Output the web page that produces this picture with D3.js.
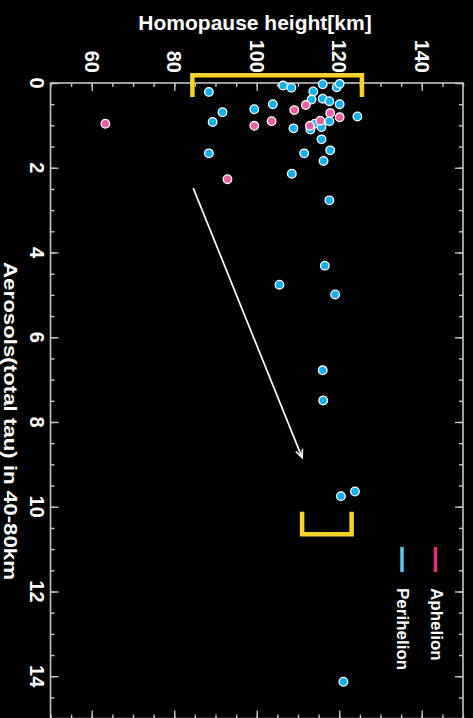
<!DOCTYPE html>
<html><head><meta charset="utf-8">
<script src="https://cdn.jsdelivr.net/npm/d3@7"></script>
<style>html,body{margin:0;padding:0;background:#000;}svg{display:block;}</style>
</head><body>
<script>
// Data: [homopause height km, aerosol total tau 40-80km]
const perihelion = [
  [88.4,0.21],[106.4,0.06],[108.4,0.11],[116.0,0.03],[119.4,0.10],[120.1,0.02],
  [113.7,0.20],[113.3,0.39],[116.0,0.37],[117.6,0.43],[120.1,0.50],[103.9,0.50],
  [91.7,0.69],[99.4,0.62],[124.4,0.79],[89.3,0.92],[108.9,1.07],[113.0,1.10],
  [114.1,0.96],[115.7,1.04],[117.6,0.90],[115.7,1.33],[117.8,1.59],[111.5,1.66],
  [116.2,1.84],[88.4,1.66],[108.5,2.14],[117.6,2.77],[116.5,4.31],[105.5,4.76],
  [119.0,4.99],[116.0,6.78],[116.1,7.49],[120.4,9.75],[123.8,9.64],[121.0,14.13]
];
const aphelion = [
  [109.1,0.64],[111.9,0.52],[117.8,0.71],[120.1,0.81],[63.3,0.96],[99.4,1.01],
  [103.6,0.90],[112.9,1.01],[115.4,0.89],[92.9,2.27]
];
const heightTicks = [60,80,100,120,140];
const tauTicks = [0,2,4,6,8,10,12,14];
const topBracket = [[84.4,0.33],[84.4,-0.18],[125.5,-0.18],[125.5,0.33]];
const bottomBracket = [[111.0,10.12],[111.0,10.65],[123.0,10.65],[123.0,10.12]];
const arrowLine = [[84.6,2.48],[111.0,8.84]];
const legendItems = ["Aphelion","Perihelion"];

const W = 473, H = 718;
const C_PERI = "#10b1ee", C_APH = "#ee5fa6", C_YEL = "#f6d32a", C_AX = "#c4c4c4";
const svg = d3.select("body").append("svg").attr("width",W).attr("height",H).style("background","#000");
svg.append("rect").attr("width",W).attr("height",H).attr("fill","#000");

const x = d3.scaleLinear().domain([50,150]).range([50.5,463]);
const y = d3.scaleLinear().domain([0,15]).range([83,718.6]);

const minorH = d3.range(50,151,5), minorT = d3.range(0,15.01,0.5);
function axisStyle(g){ g.select(".domain").remove(); g.selectAll("line").attr("stroke",C_AX).attr("stroke-width",1.4); g.selectAll("text").remove(); }
// top
svg.append("g").attr("transform",`translate(0,${y(0)})`).call(d3.axisTop(x).tickValues(minorH).tickSize(-4)).call(axisStyle);
svg.append("g").attr("transform",`translate(0,${y(0)})`).call(d3.axisTop(x).tickValues(heightTicks).tickSize(-8)).call(axisStyle);
// bottom
svg.append("g").attr("transform",`translate(0,${y(15)})`).call(d3.axisBottom(x).tickValues(minorH).tickSize(-4)).call(axisStyle);
svg.append("g").attr("transform",`translate(0,${y(15)})`).call(d3.axisBottom(x).tickValues(heightTicks).tickSize(-8)).call(axisStyle);
// left
svg.append("g").attr("transform",`translate(${x(50)},0)`).call(d3.axisLeft(y).tickValues(minorT).tickSize(-4)).call(axisStyle);
svg.append("g").attr("transform",`translate(${x(50)},0)`).call(d3.axisLeft(y).tickValues(tauTicks).tickSize(-8)).call(axisStyle);
// right
svg.append("g").attr("transform",`translate(${x(150)},0)`).call(d3.axisRight(y).tickValues(minorT).tickSize(-4)).call(axisStyle);
svg.append("g").attr("transform",`translate(${x(150)},0)`).call(d3.axisRight(y).tickValues(tauTicks).tickSize(-8)).call(axisStyle);
// frame
svg.append("rect").attr("x",x(50)).attr("y",y(0)).attr("width",x(150)-x(50)).attr("height",y(15)-y(0))
  .attr("fill","none").attr("stroke",C_AX).attr("stroke-width",1.6);

const FONT = "'Liberation Sans', Arial, Helvetica, sans-serif";
// top tick labels
svg.append("g").selectAll("text").data(heightTicks).join("text")
  .attr("transform",d=>`translate(${x(d)},73) rotate(90)`)
  .attr("text-anchor","end").attr("dy","0.35em")
  .attr("font-family",FONT).attr("font-weight","bold").attr("font-size",20).attr("fill","#fff")
  .text(d=>d);
// left tick labels
svg.append("g").selectAll("text").data(tauTicks).join("text")
  .attr("transform",d=>`translate(37,${y(d)}) rotate(90)`)
  .attr("text-anchor","middle").attr("dy","0.35em")
  .attr("font-family",FONT).attr("font-weight","bold").attr("font-size",20).attr("fill","#fff")
  .text(d=>d);
// titles
svg.append("text").attr("x",255).attr("y",30).attr("text-anchor","middle")
  .attr("font-family",FONT).attr("font-weight","bold").attr("font-size",21).attr("fill","#fff")
  .text("Homopause height[km]");
svg.append("text").attr("transform","translate(10.5,421) rotate(90)").attr("text-anchor","middle").attr("dy","0.35em")
  .attr("textLength",318).attr("lengthAdjust","spacingAndGlyphs")
  .attr("font-family",FONT).attr("font-weight","bold").attr("font-size",19).attr("fill","#fff")
  .text("Aerosols(total tau) in 40-80km");

// arrow
svg.append("defs").append("marker").attr("id","ah").attr("viewBox","-10 -6 12 12")
  .attr("markerWidth",12).attr("markerHeight",12).attr("markerUnits","userSpaceOnUse")
  .attr("refX",0).attr("refY",0).attr("orient","auto")
  .append("path").attr("d","M-8,-3.6L0,0L-8,3.6").attr("fill","none").attr("stroke","#fff").attr("stroke-width",1.6);
const line = d3.line().x(d=>x(d[0])).y(d=>y(d[1]));
svg.append("path").attr("d",line(arrowLine)).attr("stroke","#fff").attr("stroke-width",1.7).attr("fill","none").attr("marker-end","url(#ah)");

// points
svg.append("g").selectAll("circle").data(perihelion).join("circle")
  .attr("cx",d=>x(d[0])).attr("cy",d=>y(d[1])).attr("r",4.3)
  .attr("fill",C_PERI).attr("stroke","#fff").attr("stroke-width",1.3);
svg.append("g").selectAll("circle").data(aphelion).join("circle")
  .attr("cx",d=>x(d[0])).attr("cy",d=>y(d[1])).attr("r",4.3)
  .attr("fill",C_APH).attr("stroke","#fff").attr("stroke-width",1.3);

// brackets
[topBracket,bottomBracket].forEach(b=>svg.append("path").attr("d",line(b)).attr("fill","none")
  .attr("stroke",C_YEL).attr("stroke-width",4.5).attr("stroke-linejoin","miter").attr("stroke-linecap","butt"));

// legend
const legCols = ["#e3307f","#5cc6ef"], legX = [430.5, 397];
legendItems.forEach((t,i)=>{
  svg.append("line").attr("x1",legX[i]+5).attr("x2",legX[i]+5).attr("y1",547).attr("y2",572)
    .attr("stroke",legCols[i]).attr("stroke-width",3.5);
  svg.append("text").attr("transform",`translate(${legX[i]},588) rotate(90)`)
    .attr("font-family",FONT).attr("font-weight","bold").attr("font-size",17).attr("fill","#fff").text(t);
});
</script>
</body></html>
